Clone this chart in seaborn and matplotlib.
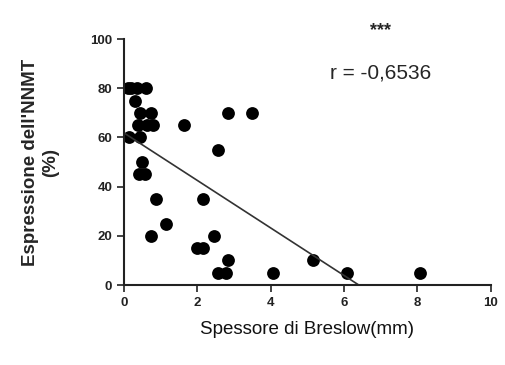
import numpy as np
import pandas as pd
import seaborn as sns
import matplotlib.pyplot as plt

# Breslow thickness (mm) vs NNMT expression (%)
breslow = [0.1, 0.35, 0.6, 0.2, 0.3, 0.45, 0.75, 0.38, 0.62, 0.8, 0.15, 0.45,
           0.5, 0.4, 0.57, 0.87, 0.73, 1.15, 1.63, 2.15, 2.0, 2.15, 2.45, 2.55,
           2.83, 2.83, 2.55, 2.78, 4.05, 3.5, 5.15, 6.07, 8.07]
nnmt = [80, 80, 80, 80, 75, 70, 70, 65, 65, 65, 60, 60,
        50, 45, 45, 35, 20, 25, 65, 35, 15, 15, 20, 55,
        70, 10, 5, 5, 5, 70, 10, 5, 5]

df = pd.DataFrame({'Breslow': breslow, 'NNMT': nnmt})

sns.set_style('ticks')
plt.rcParams['font.family'] = ['Liberation Sans', 'DejaVu Sans']

fig = plt.figure(figsize=(5.06, 3.65), dpi=100)
ax = fig.add_axes([0.245, 0.219, 0.725, 0.674])

sns.regplot(x='Breslow', y='NNMT', data=df, ci=None, truncate=False,
            scatter_kws={'s': 85, 'color': 'black', 'alpha': 1, 'linewidths': 0},
            line_kws={'color': '#333333', 'lw': 1.2}, ax=ax)

ax.set_xlim(0, 10)
ax.set_ylim(0, 100)
ax.set_xticks([0, 2, 4, 6, 8, 10])
ax.set_yticks([0, 20, 40, 60, 80, 100])
for lbl in ax.get_xticklabels() + ax.get_yticklabels():
    lbl.set_fontweight('bold')
    lbl.set_fontsize(9.5)
ax.tick_params(length=5, width=1.2, colors='#222222')
for s in ['left', 'bottom']:
    ax.spines[s].set_linewidth(1.5)
    ax.spines[s].set_color('#222222')
sns.despine(ax=ax)

ax.set_xlabel('Spessore di Breslow(mm)', fontsize=13.5, labelpad=9, color='#111111')
ax.set_ylabel("Espressione dell'NNMT\n(%)", fontsize=13.5, fontweight='bold',
              labelpad=22, linespacing=1.3)

fig.text(0.752, 0.915, '***', fontsize=13, fontweight='bold', ha='center', va='center')
fig.text(0.752, 0.80, 'r = -0,6536', fontsize=15, ha='center', va='center')

fig.savefig('out.png', dpi=100)
